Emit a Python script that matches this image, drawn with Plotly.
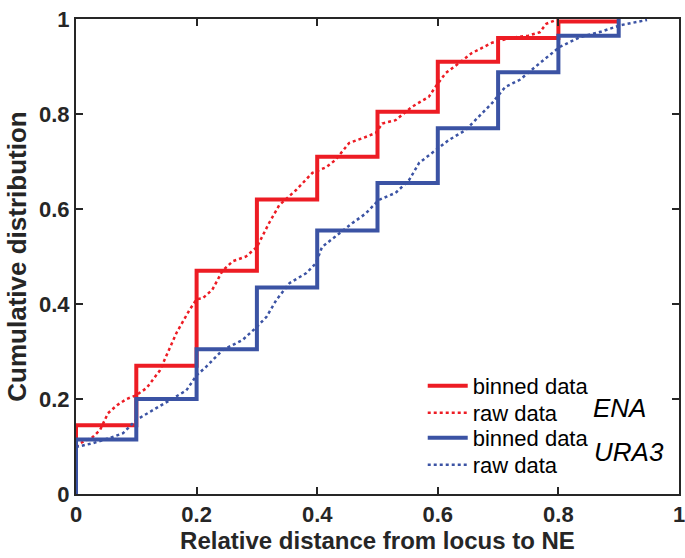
import plotly.graph_objects as go

# ---- data ----
bin_edges = [0.0, 0.1, 0.2, 0.3, 0.4, 0.5, 0.6, 0.7, 0.8, 0.9]
ena_binned = [0.145, 0.27, 0.47, 0.62, 0.71, 0.805, 0.91, 0.96, 0.995]
ura3_binned = [0.115, 0.2, 0.305, 0.435, 0.555, 0.655, 0.77, 0.888, 0.965]

ena_raw_x = [0.0, 0.007, 0.028, 0.04, 0.053, 0.068, 0.084, 0.1, 0.117, 0.125, 0.139, 0.167,
             0.188, 0.2, 0.21, 0.226, 0.243, 0.26, 0.282, 0.3, 0.32, 0.337, 0.365, 0.392,
             0.415, 0.43, 0.453, 0.475, 0.497, 0.508, 0.53, 0.557, 0.585, 0.596, 0.613,
             0.635, 0.656, 0.69, 0.72, 0.75, 0.769, 0.78, 0.797, 0.8]
ena_raw_y = [0.10, 0.107, 0.12, 0.135, 0.17, 0.187, 0.2, 0.208, 0.223, 0.236, 0.26, 0.34,
             0.387, 0.41, 0.412, 0.43, 0.47, 0.49, 0.5, 0.52, 0.57, 0.608, 0.64, 0.676,
             0.688, 0.703, 0.739, 0.749, 0.76, 0.78, 0.787, 0.815, 0.836, 0.857, 0.886,
             0.907, 0.928, 0.95, 0.96, 0.965, 0.972, 0.99, 0.998, 1.0]

ura3_raw_x = [0.0, 0.028, 0.056, 0.078, 0.1, 0.128, 0.155, 0.183, 0.2, 0.216, 0.243, 0.276,
              0.3, 0.316, 0.332, 0.354, 0.382, 0.398, 0.408, 0.436, 0.458, 0.48, 0.502,
              0.53, 0.552, 0.569, 0.597, 0.618, 0.646, 0.668, 0.69, 0.712, 0.736, 0.769,
              0.802, 0.836, 0.87, 0.903, 0.947]
ura3_raw_y = [0.099, 0.107, 0.118, 0.128, 0.156, 0.177, 0.198, 0.218, 0.25, 0.268, 0.303,
              0.324, 0.352, 0.373, 0.408, 0.444, 0.465, 0.486, 0.52, 0.549, 0.57, 0.59,
              0.619, 0.634, 0.66, 0.697, 0.724, 0.745, 0.766, 0.794, 0.823, 0.857, 0.872,
              0.907, 0.941, 0.962, 0.973, 0.987, 0.998]

tick_vals = [0, 0.2, 0.4, 0.6, 0.8, 1]
tick_text = ["0", "0.2", "0.4", "0.6", "0.8", "1"]

RED = "#ED1C24"
BLUE = "#3B53A4"
AX = "#262626"
FONT = "Liberation Sans"


def stairs(edges, vals, end_val):
    x = [edges[0]] + list(edges) + [edges[-1]]
    y = [0.0] + list(vals) + [end_val]
    return x, y


ex, ey = stairs(bin_edges, ena_binned, ena_binned[-1])
ux, uy = stairs(bin_edges, ura3_binned, 1.0)

fig = go.Figure()
fig.add_trace(go.Scatter(x=ex, y=ey, mode="lines", line=dict(color=RED, width=4, shape="hv"),
                         name="binned data", legend="legend", showlegend=True))
fig.add_trace(go.Scatter(x=ena_raw_x, y=ena_raw_y, mode="lines",
                         line=dict(color=RED, width=2.5, dash="dot"), name="raw data",
                         legend="legend2", showlegend=True))
fig.add_trace(go.Scatter(x=ux, y=uy, mode="lines", line=dict(color=BLUE, width=4, shape="hv"),
                         name="binned data", legend="legend3", showlegend=True))
fig.add_trace(go.Scatter(x=ura3_raw_x, y=ura3_raw_y, mode="lines",
                         line=dict(color=BLUE, width=2.5, dash="dot"), name="raw data",
                         legend="legend4", showlegend=True))

axis_common = dict(range=[0, 1], tickvals=tick_vals, ticktext=tick_text,
                   showline=True, mirror="ticks", linecolor=AX, linewidth=2,
                   ticks="inside", ticklen=7, tickwidth=2, tickcolor=AX,
                   showgrid=False, zeroline=False, automargin=False,
                   ticklabeloverflow="allow",
                   tickfont=dict(family=FONT, size=22, color=AX, weight="bold"))

fig.update_xaxes(**axis_common,
                 title=dict(text="<b>Relative distance from locus to NE</b>", standoff=4,
                            font=dict(family=FONT, size=24, color=AX)))
fig.update_yaxes(**axis_common,
                 title=dict(text="<b>Cumulative distribution</b>", standoff=5,
                            font=dict(family=FONT, size=26, color=AX)))

fig.add_annotation(x=0.902, y=0.181, xref="paper", yref="paper", text="<i>ENA</i>",
                   xanchor="center", yanchor="middle",
                   showarrow=False, font=dict(family=FONT, size=26, color="black"))
fig.add_annotation(x=0.917, y=0.088, xref="paper", yref="paper", text="<i>URA3</i>",
                   xanchor="center", yanchor="middle",
                   showarrow=False, font=dict(family=FONT, size=26, color="black"))

leg_common = dict(x=0.575, xanchor="left", yanchor="middle", bgcolor="rgba(0,0,0,0)",
                  font=dict(family=FONT, size=22, color="black"), itemwidth=40)

fig.update_layout(
    width=685, height=558,
    margin=dict(l=76, r=6, t=19, b=64),
    plot_bgcolor="white", paper_bgcolor="white",
    showlegend=True,
    legend=dict(y=0.2274, **leg_common),
    legend2=dict(y=0.1705, **leg_common),
    legend3=dict(y=0.1179, **leg_common),
    legend4=dict(y=0.0611, **leg_common),
)

fig.write_html("out.html")
